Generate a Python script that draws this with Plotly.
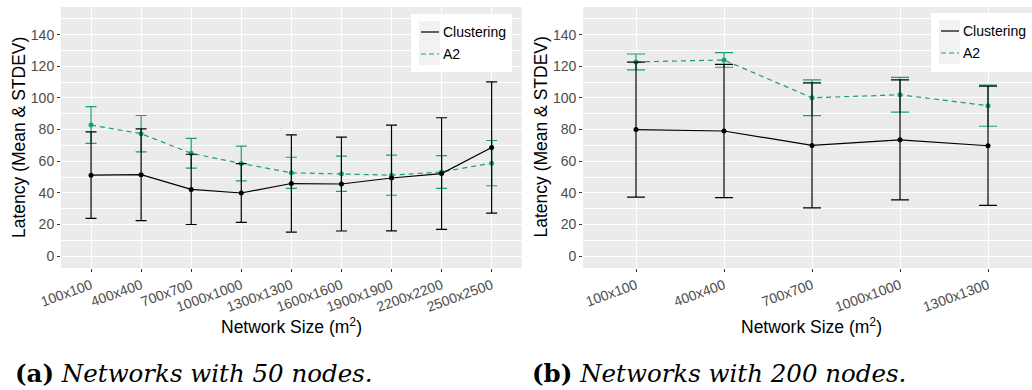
import plotly.graph_objects as go

W, H = 1032, 390

# ---------------- data ----------------
sizes_a = ["100x100", "400x400", "700x700", "1000x1000", "1300x1300",
           "1600x1600", "1900x1900", "2200x2200", "2500x2500"]
clu_mean_a = [51.2, 51.5, 42.2, 39.9, 45.9, 45.6, 49.4, 52.2, 68.7]
clu_sd_a = [27.3, 29.0, 22.2, 18.6, 30.7, 29.7, 33.4, 35.3, 41.5]
a2_mean_a = [82.9, 77.4, 65.0, 58.6, 52.7, 52.1, 51.2, 53.2, 58.8]
a2_sd_a = [11.6, 11.5, 9.4, 11.0, 9.8, 11.1, 12.7, 10.4, 14.3]

sizes_b = ["100x100", "400x400", "700x700", "1000x1000", "1300x1300"]
clu_mean_b = [80.0, 79.1, 70.0, 73.5, 69.8]
clu_sd_b = [42.7, 42.1, 39.5, 37.9, 37.7]
a2_mean_b = [122.8, 124.0, 100.1, 102.0, 95.1]
a2_sd_b = [5.0, 4.6, 11.3, 11.0, 13.0]

series_names = ["Clustering", "A2"]
y_ticks = [0, 20, 40, 60, 80, 100, 120, 140]
captions = ["<b>(a)</b> <i>Networks with 50 nodes.</i>",
            "<b>(b)</b> <i>Networks with 200 nodes.</i>"]

BLACK = "#000000"
GREEN = "#1B9E77"
PANEL = "#EBEBEB"
SANS = "Liberation Sans, Arial, sans-serif"
SERIF = "DejaVu Serif, Liberation Serif, serif"


def px(x):
    return x / W


def py(y):
    return 1 - y / H


fig = go.Figure()


def add_series(xcats, mean, sd, color, dash, xa, ya, capw):
    fig.add_trace(go.Scatter(
        x=xcats, y=mean, mode="lines+markers",
        line=dict(color=color, width=1.2, dash=dash),
        marker=dict(color=color, size=5),
        error_y=dict(type="data", array=sd, visible=True, color=color,
                     thickness=1.2, width=capw),
        xaxis=xa, yaxis=ya, showlegend=False))


add_series(sizes_a, a2_mean_a, a2_sd_a, GREEN, "5px,4px", "x", "y", 5.5)
add_series(sizes_a, clu_mean_a, clu_sd_a, BLACK, "solid", "x", "y", 5.5)
add_series(sizes_b, a2_mean_b, a2_sd_b, GREEN, "5px,4px", "x2", "y2", 9)
add_series(sizes_b, clu_mean_b, clu_sd_b, BLACK, "solid", "x2", "y2", 9)

ytop, ybot = 7, 268
common_x = dict(type="category", showgrid=True, gridcolor="white", gridwidth=1.1,
                zeroline=False, ticks="outside", ticklen=3, tickcolor="#333333",
                tickwidth=1, tickangle=-20, automargin=False,
                tickfont=dict(family=SANS, size=14, color="#4D4D4D"),
                showline=False)
common_y = dict(range=[-7.5, 157.5], tickvals=y_ticks, showgrid=True,
                gridcolor="white", gridwidth=1.1, zeroline=False, automargin=False,
                ticks="outside", ticklen=3, tickcolor="#333333", tickwidth=1,
                tickfont=dict(family=SANS, size=14, color="#4D4D4D"),
                minor=dict(dtick=10, tick0=10, showgrid=True, gridcolor="white",
                           gridwidth=0.6, ticks=""),
                showline=False)

fig.update_layout(
    width=W, height=H, margin=dict(l=0, r=0, t=0, b=0, autoexpand=False),
    paper_bgcolor="white", plot_bgcolor=PANEL, showlegend=False,
    xaxis=dict(common_x, domain=[px(61), px(521.7)], range=[-0.6, 8.6],
               anchor="y"),
    yaxis=dict(common_y, domain=[py(ybot), py(ytop)], anchor="x"),
    xaxis2=dict(common_x, domain=[px(583.2), 1.0], range=[-0.6, 4.5],
                anchor="y2"),
    yaxis2=dict(common_y, domain=[py(ybot), py(ytop)], anchor="x2"),
)

ann = []
# axis titles
for xc in (18.5, 540):
    ann.append(dict(x=px(xc), y=py(137.5), xref="paper", yref="paper",
                    text="Latency (Mean & STDEV)", textangle=-90, showarrow=False,
                    xanchor="center", yanchor="middle",
                    font=dict(family=SANS, size=17.5, color="black")))
for xc in (291, 811.7):
    ann.append(dict(x=px(xc), y=py(326), xref="paper", yref="paper",
                    text="Network Size (m<sup>2</sup>)", showarrow=False,
                    xanchor="center", yanchor="middle",
                    font=dict(family=SANS, size=17.5, color="black")))
# captions
for xc, txt in zip((13, 530), captions):
    ann.append(dict(x=px(xc), y=py(373), xref="paper", yref="paper", text=txt,
                    showarrow=False, xanchor="left", yanchor="middle",
                    font=dict(family=SERIF, size=24.5, color="black")))

shapes = []
# manual legends (ggplot style)
for (bx0, bx1, by0, by1, kx0) in ((411, 512, 14, 72, 419), (931, 1040, 13, 72, 939)):
    shapes.append(dict(type="rect", xref="paper", yref="paper", layer="above",
                       x0=px(bx0), x1=px(bx1), y0=py(by1), y1=py(by0),
                       fillcolor="white", line=dict(width=0)))
    for i, (name, color, dash) in enumerate(zip(series_names, [BLACK, GREEN],
                                                ["solid", "5px,3px"])):
        ky0 = by0 + 7 + 22 * i
        shapes.append(dict(type="rect", xref="paper", yref="paper", layer="above",
                           x0=px(kx0), x1=px(kx0 + 21), y0=py(ky0 + 22), y1=py(ky0),
                           fillcolor="#F2F2F2", line=dict(width=0)))
        shapes.append(dict(type="line", xref="paper", yref="paper", layer="above",
                           x0=px(kx0 + 2), x1=px(kx0 + 20), y0=py(ky0 + 11),
                           y1=py(ky0 + 11), line=dict(color=color, width=1.2, dash=dash)))
        ann.append(dict(x=px(kx0 + 21.5), y=py(ky0 + 11), xref="paper", yref="paper",
                        text=name, showarrow=False, xanchor="left", yanchor="middle",
                        font=dict(family=SANS, size=14, color="black")))

fig.update_layout(annotations=ann, shapes=shapes)
fig.write_html("out.html")
